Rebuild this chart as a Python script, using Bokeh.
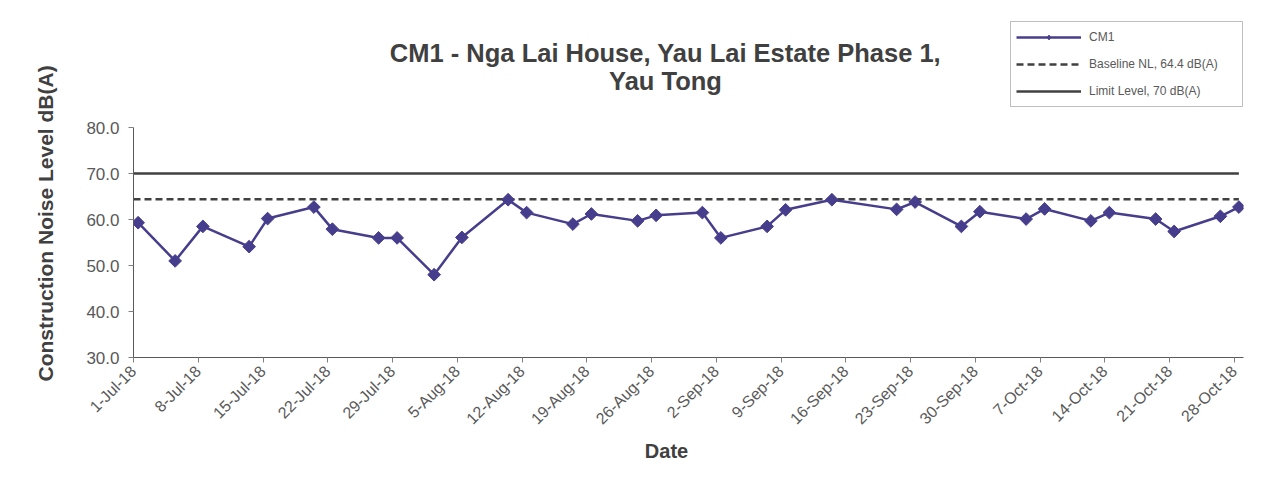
import math
import pandas as pd
from bokeh.plotting import figure
from bokeh.layouts import row, column
from bokeh.models import (Range1d, FixedTicker, Label, Legend, LegendItem,
                          NumeralTickFormatter, ColumnDataSource)
from bokeh.embed import file_html
from bokeh.resources import INLINE

# ---------------- data ----------------
dates = ["1-Jul-18", "5-Jul-18", "8-Jul-18", "13-Jul-18", "15-Jul-18", "20-Jul-18",
         "22-Jul-18", "27-Jul-18", "29-Jul-18", "2-Aug-18", "5-Aug-18", "10-Aug-18",
         "12-Aug-18", "17-Aug-18", "19-Aug-18", "24-Aug-18", "26-Aug-18", "31-Aug-18",
         "2-Sep-18", "7-Sep-18", "9-Sep-18", "14-Sep-18", "21-Sep-18", "23-Sep-18",
         "28-Sep-18", "30-Sep-18", "5-Oct-18", "7-Oct-18", "12-Oct-18", "14-Oct-18",
         "19-Oct-18", "21-Oct-18", "26-Oct-18", "28-Oct-18"]
cm1 = [59.3, 51.0, 58.5, 54.1, 60.2, 62.7,
       57.9, 56.0, 56.0, 48.0, 56.1, 64.3,
       61.5, 59.0, 61.2, 59.7, 60.9, 61.5,
       56.0, 58.5, 62.1, 64.3, 62.2, 63.8,
       58.5, 61.7, 60.1, 62.3, 59.7, 61.5,
       60.1, 57.4, 60.7, 62.7]
baseline_nl = 64.4
limit_level = 70.0
tick_labels = ["1-Jul-18", "8-Jul-18", "15-Jul-18", "22-Jul-18", "29-Jul-18", "5-Aug-18",
               "12-Aug-18", "19-Aug-18", "26-Aug-18", "2-Sep-18", "9-Sep-18", "16-Sep-18",
               "23-Sep-18", "30-Sep-18", "7-Oct-18", "14-Oct-18", "21-Oct-18", "28-Oct-18"]
y_ticks = [30, 40, 50, 60, 70, 80]
x_start, x_end = "1-Jul-18", "29-Oct-18"
y_min, y_max = 30, 80

title_line1 = "CM1 - Nga Lai House, Yau Lai Estate Phase 1,"
title_line2 = "Yau Tong"
y_label = "Construction Noise Level  dB(A)"
x_label = "Date"
legend_labels = ["CM1", "Baseline NL, 64.4 dB(A)", "Limit Level, 70 dB(A)"]

# ---------------- conversion ----------------
fmt = "%d-%b-%y"
t0 = pd.to_datetime(x_start, format=fmt)
def day(s):
    return (pd.to_datetime(s, format=fmt) - t0).days

xs = [day(d) + 0.5 for d in dates]          # points centred in their day
tick_pos = [day(t) for t in tick_labels]
x_max = day(x_end)
src = ColumnDataSource(dict(x=xs, y=cm1))
ref_x = [xs[0] - 0.5, xs[-1]]

# ---------------- styling constants ----------------
FONT = "Liberation Sans"
AX = "#595959"
TXT = "#595959"
TITLE = "#404040"
LINE = "#463E8C"
REF = "#404040"

# layout geometry (page pixels)
TOTAL_W, TOTAL_H = 1280, 478
LEFT_W = 70
TOP_H = 115
BOT_H = 41
MAIN_H = TOTAL_H - TOP_H - BOT_H
RIGHT_W = TOTAL_W - LEFT_W
FR_L, FR_R, FR_T, FR_B = 133, 1243, 127, 357     # plot frame in page pixels


def blank(width, height, x0, x1, y0, y1, bl=0, br=0):
    f = figure(width=width, height=height, output_backend="svg", toolbar_location=None,
               x_axis_type=None, y_axis_type=None, title=None,
               x_range=Range1d(x0, x1), y_range=Range1d(y1, y0),
               min_border=0, min_border_left=bl, min_border_right=br,
               min_border_top=0, min_border_bottom=0)
    f.outline_line_color = None
    f.xgrid.visible = False
    f.ygrid.visible = False
    f.background_fill_color = "white"
    f.border_fill_color = "white"
    return f


# ---------------- main chart ----------------
p = figure(width=RIGHT_W, height=MAIN_H, output_backend="svg", toolbar_location=None,
           title=None,
           x_range=Range1d(0, x_max), y_range=Range1d(y_min, y_max),
           min_border_left=FR_L - LEFT_W, min_border_right=TOTAL_W - FR_R,
           min_border_top=FR_T - TOP_H, min_border_bottom=TOP_H + MAIN_H - FR_B)
p.background_fill_color = "white"
p.border_fill_color = "white"
p.outline_line_color = None
p.xgrid.visible = False
p.ygrid.visible = False

p.yaxis.ticker = FixedTicker(ticks=y_ticks)
p.yaxis.formatter = NumeralTickFormatter(format="0.0")
p.yaxis.major_label_text_font = FONT
p.yaxis.major_label_text_font_size = "17px"
p.yaxis.major_label_text_color = TXT
p.yaxis.major_label_standoff = 9
p.yaxis.axis_line_color = AX
p.yaxis.major_tick_line_color = "#808080"
p.yaxis.major_tick_in = 0
p.yaxis.major_tick_out = 5
p.yaxis.minor_tick_line_color = None

p.xaxis.ticker = FixedTicker(ticks=tick_pos)
p.xaxis.major_label_overrides = {tp: lab for tp, lab in zip(tick_pos, tick_labels)}
p.xaxis.major_label_orientation = math.pi / 4
p.xaxis.major_label_text_font = FONT
p.xaxis.major_label_text_font_size = "16px"
p.xaxis.major_label_text_color = TXT
p.xaxis.major_label_standoff = 6
p.xaxis.axis_line_color = AX
p.xaxis.major_tick_line_color = "#808080"
p.xaxis.major_tick_in = 0
p.xaxis.major_tick_out = 5
p.xaxis.minor_tick_line_color = None

p.line(ref_x, [limit_level] * 2, line_color=REF, line_width=2.5)
p.line(ref_x, [baseline_nl] * 2, line_color=REF, line_width=2.5, line_dash="7 4")
p.line("x", "y", source=src, line_color=LINE, line_width=2.5)
p.scatter("x", "y", source=src, marker="square", size=9, angle=math.pi / 4,
          fill_color=LINE, line_color=LINE)

# ---------------- top strip: title + legend ----------------
top = blank(RIGHT_W, TOP_H, FR_L, FR_R, 0, TOP_H,
            bl=FR_L - LEFT_W, br=TOTAL_W - FR_R)
top.add_layout(Label(x=665, y=52, text=title_line1, text_align="center",
                     text_baseline="middle", text_font=FONT, text_font_style="bold",
                     text_font_size="25.5px", text_color=TITLE))
top.add_layout(Label(x=665, y=80, text=title_line2, text_align="center",
                     text_baseline="middle", text_font=FONT, text_font_style="bold",
                     text_font_size="25.5px", text_color=TITLE))

# legend entries: same series, drawn on an off-screen range of this strip
top.extra_x_ranges = {"series": Range1d(0, x_max)}
top.extra_y_ranges = {"series": Range1d(1000, 2000)}
kw = dict(x_range_name="series", y_range_name="series")
lg_cm1_line = top.line("x", "y", source=src, line_color=LINE, line_width=2.5, **kw)
lg_cm1_pt = top.scatter("x", "y", source=src, marker="diamond", fill_color=LINE,
                        line_color=LINE, **kw)
lg_base = top.line(ref_x, [baseline_nl] * 2, line_color=REF, line_width=2.5,
                   line_dash="7 4", **kw)
lg_limit = top.line(ref_x, [limit_level] * 2, line_color=REF, line_width=2.5, **kw)

legend = Legend(items=[LegendItem(label=legend_labels[0], renderers=[lg_cm1_line, lg_cm1_pt]),
                       LegendItem(label=legend_labels[1], renderers=[lg_base]),
                       LegendItem(label=legend_labels[2], renderers=[lg_limit])],
                location=(1010 - FR_L, TOP_H - 107))
legend.label_text_font = FONT
legend.label_text_font_size = "12px"
legend.label_text_color = TXT
legend.padding = 5
legend.spacing = 7
legend.label_height = 20
legend.glyph_height = 12
legend.glyph_width = 65
legend.label_standoff = 8
legend.label_width = 148
legend.margin = 0
legend.border_line_color = "#7f7f7f"
legend.border_line_width = 1
legend.background_fill_color = "white"
legend.background_fill_alpha = 1.0
top.add_layout(legend, "center")

# ---------------- bottom strip: x title ----------------
bot = blank(RIGHT_W, BOT_H, FR_L, FR_R, TOP_H + MAIN_H, TOTAL_H,
            bl=FR_L - LEFT_W, br=TOTAL_W - FR_R)
bot.add_layout(Label(x=666, y=450, text=x_label, text_align="center",
                     text_baseline="middle", text_font=FONT, text_font_style="bold",
                     text_font_size="20px", text_color=TITLE))

# ---------------- left strip: y title ----------------
left = blank(LEFT_W, TOTAL_H, 0, LEFT_W, 0, TOTAL_H)
left.add_layout(Label(x=45, y=220, text=y_label, angle=math.pi / 2,
                      text_align="center", text_baseline="middle",
                      text_font=FONT, text_font_style="bold",
                      text_font_size="21px", text_color=TITLE))

layout = row(left, column(top, p, bot, spacing=0), spacing=0)

open("out.html", "w").write(file_html(layout, INLINE))
